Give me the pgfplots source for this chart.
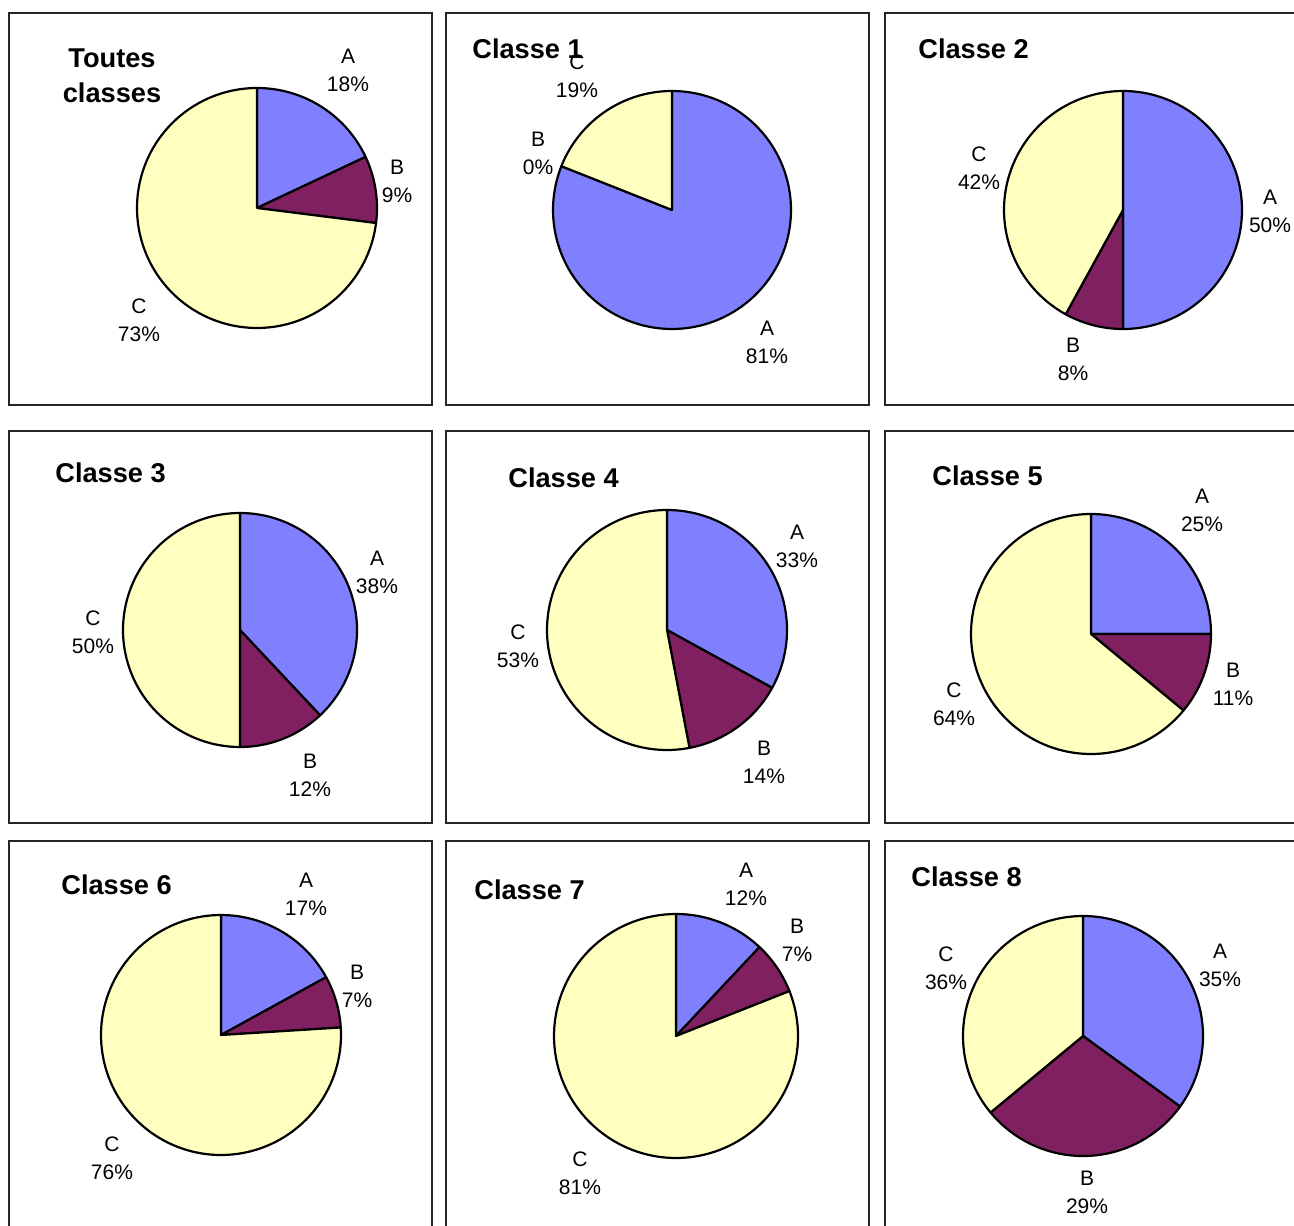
\documentclass[border=0pt]{standalone}
\usepackage{pgfplots}
\pgfplotsset{compat=1.18}
\usepackage{fontspec}
\setmainfont{Liberation Sans}
\definecolor{colA}{RGB}{128,128,255}
\definecolor{colB}{RGB}{128,32,96}
\definecolor{colC}{RGB}{255,255,192}
\pgfplotsset{pbox/.style={
  anchor=north west, scale only axis, width=211.5pt, height=196pt,
  xmin=0, xmax=423, ymin=0, ymax=392, xtick=\empty, ytick=\empty,
  axis line style={black!85, line width=0.7pt}, clip=false}}
% slice: fill colour, cx, cy, r, from (%), to (%)
\newcommand{\pieslice}[6]{%
  \addplot[draw=black, line width=1.1pt, line join=round, fill=#1,
    domain={90-3.6*(#6)}:{90-3.6*(#5)}, samples=120, variable=\t]
    ({#2+#4*cos(\t)},{#3+#4*sin(\t)}) -- (axis cs:#2,#3) -- cycle;}
% pie: cx, cy, r, A, B, C
\newcommand{\pie}[6]{%
  \pieslice{colA}{#1}{#2}{#3}{0}{#4}
  \pieslice{colB}{#1}{#2}{#3}{#4}{#4+#5}
  \pieslice{colC}{#1}{#2}{#3}{#4+#5}{#4+#5+#6}}
\newcommand{\lab}[4]{\node[font=\fontsize{10.5}{14}\selectfont, align=center, inner sep=0pt] at (axis cs:#1,#2) {#3\\#4\%};}
\newcommand{\ttl}[3]{\node[font=\fontsize{13.6}{17.5}\selectfont\bfseries, anchor=west, inner sep=0pt] at (axis cs:#1,#2) {#3};}
\begin{document}
\begin{tikzpicture}
\useasboundingbox (0,0) rectangle (647pt,-612.5pt);
\clip (0,0) rectangle (647pt,-612.5pt);
% Row 1
\begin{axis}[pbox, at={(4.5pt,-6.5pt)}]
  \pie{248}{197}{120}{18}{9}{73}
  \lab{339}{335}{A}{18}
  \lab{388}{224}{B}{9}
  \lab{130}{85}{C}{73}
  \node[font=\fontsize{13.6}{17.5}\selectfont\bfseries, align=center, inner sep=0pt] at (axis cs:103,329) {Toutes\\classes};
\end{axis}
\begin{axis}[pbox, at={(223pt,-6.5pt)}]
  \pieslice{colA}{226}{195}{119}{0}{81}
  \pieslice{colC}{226}{195}{119}{81}{100}
  \ttl{26}{356}{Classe 1}
  \lab{131}{329}{C}{19}
  \lab{92}{252}{B}{0}
  \lab{321}{63}{A}{81}
\end{axis}
\begin{axis}[pbox, at={(442.5pt,-6.5pt)}]
  \pie{238}{195}{119}{50}{8}{42}
  \ttl{33}{356}{Classe 2}
  \lab{94}{237}{C}{42}
  \lab{385}{194}{A}{50}
  \lab{188}{46}{B}{8}
\end{axis}
% Row 2
\begin{axis}[pbox, at={(4.5pt,-215.5pt)}]
  \pie{231}{193}{117}{38}{12}{50}
  \ttl{46}{350}{Classe 3}
  \lab{368}{251}{A}{38}
  \lab{84}{191}{C}{50}
  \lab{301}{48}{B}{12}
\end{axis}
\begin{axis}[pbox, at={(223pt,-215.5pt)}]
  \pie{221}{193}{120}{33}{14}{53}
  \ttl{62}{345}{Classe 4}
  \lab{351}{277}{A}{33}
  \lab{72}{177}{C}{53}
  \lab{318}{61}{B}{14}
\end{axis}
\begin{axis}[pbox, at={(442.5pt,-215.5pt)}]
  \pie{206}{189}{120}{25}{11}{64}
  \ttl{47}{347}{Classe 5}
  \lab{317}{313}{A}{25}
  \lab{348}{139}{B}{11}
  \lab{69}{119}{C}{64}
\end{axis}
% Row 3
\begin{axis}[pbox, at={(4.5pt,-420.5pt)}]
  \pie{212}{198}{120}{17}{7}{76}
  \ttl{52}{348}{Classe 6}
  \lab{297}{339}{A}{17}
  \lab{348}{247}{B}{7}
  \lab{103}{75}{C}{76}
\end{axis}
\begin{axis}[pbox, at={(223pt,-420.5pt)}]
  \pie{230}{197}{122}{12}{7}{81}
  \ttl{28}{343}{Classe 7}
  \lab{300}{349}{A}{12}
  \lab{351}{293}{B}{7}
  \lab{134}{60}{C}{81}
\end{axis}
\begin{axis}[pbox, at={(442.5pt,-420.5pt)}]
  \pie{198}{197}{120}{35}{29}{36}
  \ttl{26}{356}{Classe 8}
  \lab{61}{265}{C}{36}
  \lab{335}{268}{A}{35}
  \lab{202}{41}{B}{29}
\end{axis}
\end{tikzpicture}
\end{document}
